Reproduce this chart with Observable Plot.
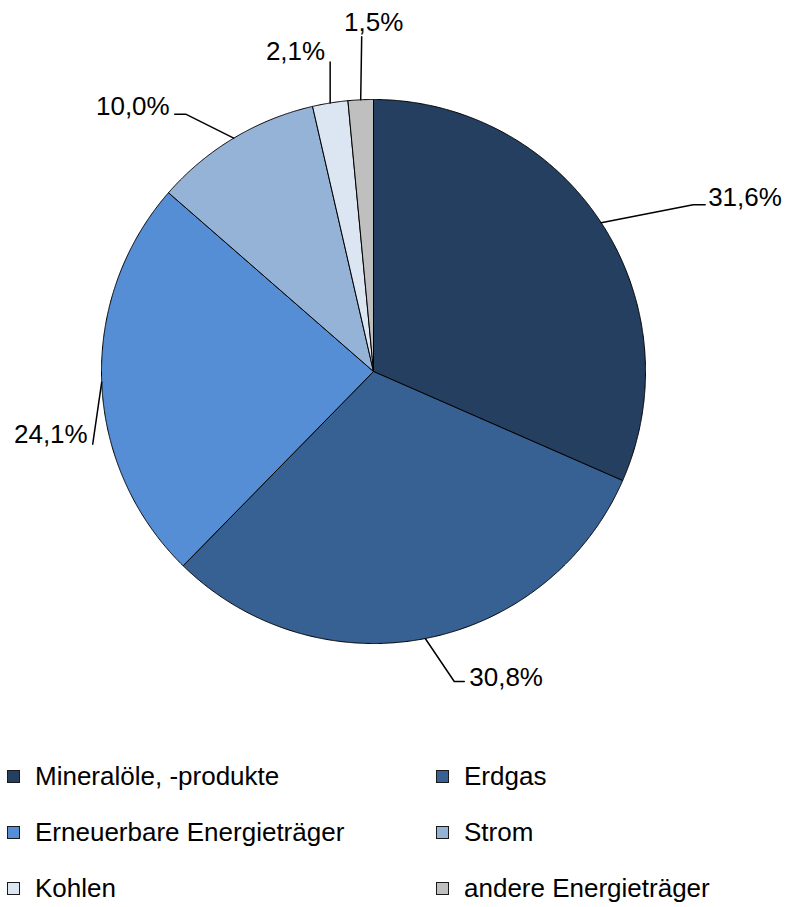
<!DOCTYPE html>
<html>
<head>
<meta charset="utf-8">
<script src="https://cdn.jsdelivr.net/npm/d3@7"></script>
<script src="https://cdn.jsdelivr.net/npm/@observablehq/plot@0.6"></script>
<style>
  body { margin: 0; background: #fff; font-family: "Liberation Sans", Arial, sans-serif; }
  #wrap { position: relative; width: 788px; height: 907px; }
  .leg { position: absolute; display: flex; align-items: center; font-size: 26px; color: #000; white-space: nowrap; }
  .sw { width: 11px; height: 11px; border: 1px solid #1a1a1a; margin-right: 15px; }
</style>
</head>
<body>
<div id="wrap"></div>
<script>
// ---- data ----
const categories = ["Mineralöle, -produkte", "Erdgas", "Erneuerbare Energieträger", "Strom", "Kohlen", "andere Energieträger"];
const shares = [31.6, 30.8, 24.1, 10.0, 2.1, 1.5];
const colors = ["#253f61", "#376093", "#558ed5", "#95b3d7", "#dce6f2", "#bfbfbf"];

// ---- layout (pixels) ----
const W = 788, H = 740, CX = 373, CY = 371, R = 272;
// leader line: elbow offset from slice-edge midpoint, horizontal tail, text anchor, text offset from line end
const leaders = {
  "Mineralöle, -produkte":     {elbow: [92, -18], tail: 12,  anchor: "start",  text: [3, -7]},
  "Erdgas":                    {elbow: [29, 43],  tail: 10,  anchor: "start",  text: [5, -4]},
  "Erneuerbare Energieträger": {elbow: [-9, 62],  tail: 0,   anchor: "end",    text: [-5, -9]},
  "Strom":                     {elbow: [-48, -24],tail: -11, anchor: "end",    text: [-5, -8]},
  "Kohlen":                    {elbow: [0, -41],  tail: 0,   anchor: "end",    text: [-5, -10]},
  "andere Energieträger":      {elbow: [1, -63],  tail: 0,   anchor: "middle", text: [12, -14]}
};

const data = categories.map((c, i) => ({name: c, value: shares[i]}));
const arcs = d3.pie().sort(null).value(d => d.value)(data);

// slice polygons (unit radius, y up)
const polyPts = [];
arcs.forEach(a => {
  const n = Math.max(2, Math.ceil((a.endAngle - a.startAngle) / 0.004));
  polyPts.push({name: a.data.name, x: 0, y: 0});
  for (let k = 0; k <= n; k++) {
    const t = a.startAngle + (a.endAngle - a.startAngle) * k / n;
    polyPts.push({name: a.data.name, x: Math.sin(t), y: Math.cos(t)});
  }
  polyPts.push({name: a.data.name, x: 0, y: 0});
});

// leader lines and labels
const linePts = [];
const labels = [];
arcs.forEach(a => {
  const L = leaders[a.data.name];
  const m = (a.startAngle + a.endAngle) / 2;
  const ex = Math.sin(m), ey = Math.cos(m);
  const bx = ex + L.elbow[0] / R, by = ey - L.elbow[1] / R;
  const tx = bx + L.tail / R, ty = by;
  linePts.push({name: a.data.name, x: ex, y: ey});
  linePts.push({name: a.data.name, x: bx, y: by});
  if (L.tail !== 0) linePts.push({name: a.data.name, x: tx, y: ty});
  labels.push({
    name: a.data.name,
    x: tx + L.text[0] / R,
    y: ty - L.text[1] / R,
    anchor: L.anchor,
    label: a.data.value.toFixed(1).replace(".", ",") + "%"
  });
});

const chart = Plot.plot({
  width: W, height: H,
  marginTop: 0, marginRight: 0, marginBottom: 0, marginLeft: 0,
  x: {domain: [-CX / R, (W - CX) / R], axis: null},
  y: {domain: [-(H - CY) / R, CY / R], axis: null},
  color: {domain: categories, range: colors},
  style: {fontFamily: "'Liberation Sans', Arial, sans-serif", background: "#fff"},
  marks: [
    Plot.line(polyPts, {x: "x", y: "y", z: "name", fill: "name", stroke: "#000", strokeWidth: 1, strokeLinejoin: "round"}),
    Plot.line(linePts, {x: "x", y: "y", z: "name", stroke: "#000", strokeWidth: 1.5}),
    ...["start", "middle", "end"].map(anc =>
      Plot.text(labels.filter(d => d.anchor === anc), {x: "x", y: "y", text: "label", textAnchor: anc, fontSize: 26, fill: "#000"})
    )
  ]
});

const wrap = document.getElementById("wrap");
wrap.appendChild(chart);

// legend (2 columns x 3 rows)
const colX = [7, 436];
const rowY = [776, 832, 888];
categories.forEach((c, i) => {
  const item = document.createElement("div");
  item.className = "leg";
  item.style.left = colX[i % 2] + "px";
  item.style.top = (rowY[Math.floor(i / 2)] - 15) + "px";
  item.style.height = "30px";
  const sw = document.createElement("div");
  sw.className = "sw";
  sw.style.background = colors[i];
  item.appendChild(sw);
  const tx = document.createElement("span");
  tx.textContent = c;
  item.appendChild(tx);
  wrap.appendChild(item);
});
</script>
</body>
</html>
